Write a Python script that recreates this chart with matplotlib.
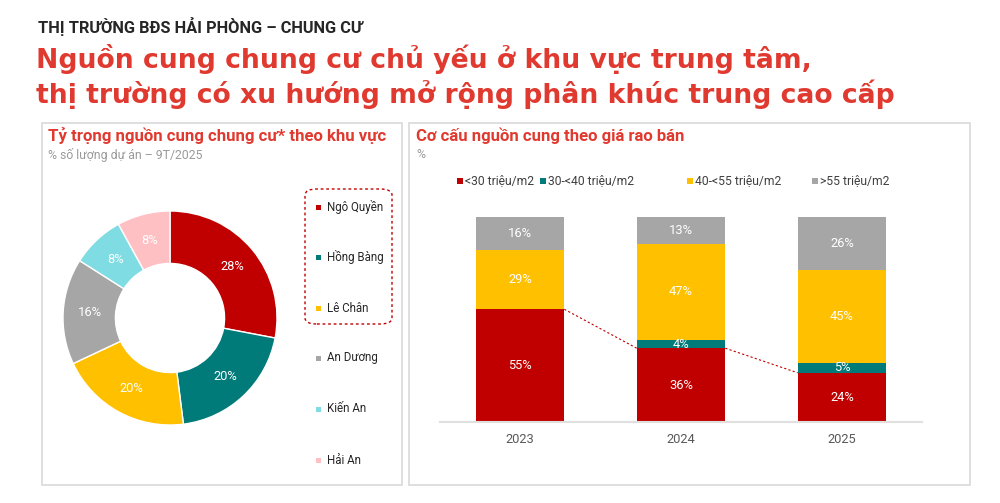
import matplotlib.pyplot as plt
from matplotlib.patches import Rectangle, FancyBboxPatch

plt.rcParams['font.family'] = ['Roboto', 'DejaVu Sans']

W, H = 1000, 503

# donut data
districts = ['Ngô Quyền', 'Hồng Bàng', 'Lê Chân', 'An Dương', 'Kiến An', 'Hải An']
district_share = [28, 20, 20, 16, 8, 8]
district_colors = ['#C00000', '#007B79', '#FFC000', '#A6A6A6', '#7FDCE2', '#FFC0C4']

# stacked bar data
years = ['2023', '2024', '2025']
price_groups = ['<30 triệu/m2', '30-<40 triệu/m2', '40-<55 triệu/m2', '>55 triệu/m2']
under30 = [55, 36, 24]
from30to40 = [0, 4, 5]
from40to55 = [29, 47, 45]
over55 = [16, 13, 26]
bar_colors = ['#C00000', '#007B79', '#FFC000', '#A6A6A6']

RED = '#E03A30'
DARK = '#262626'
GREY = '#9A9A9A'


def fx(px):
    return px / W


def fy(py):
    return 1 - py / H


fig = plt.figure(figsize=(10, 5.03), dpi=100)

# headings
fig.text(fx(38), fy(27), 'THỊ TRƯỜNG BĐS HẢI PHÒNG – CHUNG CƯ', fontsize=11.8,
         fontweight='bold', color=DARK, va='center')
fig.text(fx(36), fy(59), 'Nguồn cung chung cư chủ yếu ở khu vực trung tâm,', fontsize=19.2,
         fontweight='bold', color=RED, va='center', family=['DejaVu Sans'])
fig.text(fx(36), fy(94), 'thị trường có xu hướng mở rộng phân khúc trung cao cấp', fontsize=19.2,
         fontweight='bold', color=RED, va='center', family=['DejaVu Sans'])

# panel frames
for x0, x1 in [(42, 402), (409, 970)]:
    fig.add_artist(Rectangle((fx(x0), fy(485)), fx(x1 - x0), (485 - 123) / H,
                             transform=fig.transFigure, fill=False,
                             edgecolor='#D9D9D9', linewidth=1.2))

# left panel titles
fig.text(fx(48), fy(136), 'Tỷ trọng nguồn cung chung cư* theo khu vực', fontsize=12.1,
         fontweight='bold', color=RED, va='center')
fig.text(fx(48), fy(155), '% số lượng dự án – 9T/2025', fontsize=8.8, color=GREY, va='center')

# donut
cx, cy, r = 170, 318, 107
ax1 = fig.add_axes([fx(cx - r), fy(cy + r), 2 * r / W, 2 * r / H])
wedges, texts, autotexts = ax1.pie(
    district_share, colors=district_colors, startangle=90, counterclock=False,
    radius=1, autopct='%d%%', pctdistance=0.75,
    wedgeprops=dict(width=0.49, edgecolor='white', linewidth=1),
    textprops=dict(color='white', fontsize=9.3))
ax1.set_xlim(-1, 1)
ax1.set_ylim(-1, 1)
ax1.set_aspect('auto')
ax1.axis('off')

# left legend
leg_y = [207, 257, 308, 358, 409, 460]
for name, col, y in zip(districts, district_colors, leg_y):
    fig.add_artist(Rectangle((fx(316), fy(y + 2.5)), fx(5), 5 / H, transform=fig.transFigure,
                             facecolor=col, edgecolor='none'))
    fig.text(fx(327), fy(y), name, fontsize=8.3, color=DARK, va='center')
fig.add_artist(FancyBboxPatch((fx(305), fy(324)), fx(87), (324 - 189) / H,
                              boxstyle='round,pad=0,rounding_size=0.012',
                              transform=fig.transFigure, fill=False,
                              edgecolor='#C00000', linestyle=(0, (2, 2)), linewidth=1))

# right panel titles
fig.text(fx(416), fy(136), 'Cơ cấu nguồn cung theo giá rao bán', fontsize=12,
         fontweight='bold', color=RED, va='center')
fig.text(fx(416), fy(155), '%', fontsize=8.8, color=GREY, va='center')

# right legend
leg_x = [457, 540, 687, 812]
for name, col, x in zip(price_groups, bar_colors, leg_x):
    fig.add_artist(Rectangle((fx(x), fy(184)), fx(6), 6 / H, transform=fig.transFigure,
                             facecolor=col, edgecolor='none'))
    fig.text(fx(x + 8), fy(181), name, fontsize=8.7, color='#404040', va='center')

# stacked bars
ax2 = fig.add_axes([fx(440), fy(422), fx(482), 205 / H])
xs = range(len(years))
bw = 0.55
series = [under30, from30to40, from40to55, over55]
bottom = [0, 0, 0]
for vals, col in zip(series, bar_colors):
    ax2.bar(xs, vals, bottom=bottom, width=bw, color=col)
    for i, v in enumerate(vals):
        if v > 0:
            ax2.text(i, bottom[i] + v / 2, f'{v}%', ha='center', va='center',
                     color='white', fontsize=9.3)
    bottom = [b + v for b, v in zip(bottom, vals)]

# dashed connector between the tops of the red segments
for i in range(len(years) - 1):
    ax2.plot([i + bw / 2, i + 1 - bw / 2], [under30[i], under30[i + 1]],
             color='#C00000', linestyle=(0, (2, 2)), linewidth=0.8)

ax2.set_xlim(-80 / 161, 2 + 80 / 161)
ax2.set_ylim(0, 100)
ax2.set_xticks(list(xs))
ax2.set_xticklabels(years, fontsize=9.3, color='#595959')
ax2.tick_params(axis='x', length=0, pad=8)
ax2.set_yticks([])
for s in ['top', 'right', 'left']:
    ax2.spines[s].set_visible(False)
ax2.spines['bottom'].set_color('#E0E0E0')
ax2.spines['bottom'].set_linewidth(1.5)

fig.savefig('out.png', dpi=100)
